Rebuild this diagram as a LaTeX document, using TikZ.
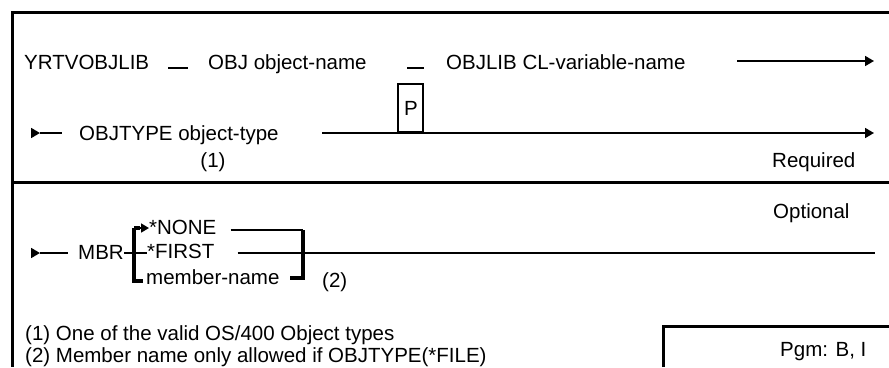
\documentclass[tikz,border=0pt]{standalone}
\usepackage{fontspec}
\setmainfont{Liberation Sans}
\usetikzlibrary{arrows.meta}
\begin{document}
\begin{tikzpicture}[x=1pt,y=-1pt,
  txt/.style={inner sep=0pt,anchor=base west,font=\fontsize{20.5}{24}\selectfont},
  ln/.style={line width=1.7pt},
  arr/.style={ln,-{Triangle[length=9pt,width=10pt]}},
  brk/.style={line width=3.5pt},
  frm/.style={line width=3pt}]
\useasboundingbox (0,0) rectangle (889,367);
\fill[white] (0,0) rectangle (889,367);
% frame
\draw[frm] (889,12) -- (12,12) -- (12,367);
\draw[frm] (12,182) -- (889,182);
\draw[frm] (663,367) -- (663,326) -- (889,326);

% row 1
\node[txt] (cmd) at (24,69) {YRTVOBJLIB};
\coordinate (d1a) at (168,68);
\coordinate (d1b) at (188,68);
\draw[ln] (d1a) -- (d1b);
\node[txt] (obj) at (208,69) {OBJ object-name};
\coordinate (d2a) at (407,68);
\coordinate (d2b) at (424,68);
\draw[ln] (d2a) -- (d2b);
\node[txt] (objlib) at (446,69) {OBJLIB CL-variable-name};
\coordinate (r1s) at (737,61);
\coordinate (r1e) at (874,61);
\draw[arr] (r1s) -- (r1e);

% row 2
\coordinate (t2a) at (31,133);
\coordinate (t2b) at (40,133);
\coordinate (t2c) at (62,133);
\draw[arr] (t2a) -- (t2b);
\draw[ln] (t2b) -- (t2c);
\node[txt] (otype) at (79,140) {OBJTYPE object-type};
\node[txt,anchor=base] (n1) at (213,167) {(1)};
\coordinate (r2s) at (322,133);
\coordinate (r2e) at (874,133);
\draw[arr] (r2s) -- (r2e);
\node[draw,line width=1.7pt,inner sep=0pt,minimum width=25pt,minimum height=48pt,anchor=south] (pbox) at (410.5,133) {};
\node[txt,anchor=base] (p) at (411,115) {P};
\node[txt] (req) at (772,167) {Required};

% row 3
\node[txt] (opt) at (773,218) {Optional};
\coordinate (t3a) at (31,253);
\coordinate (t3b) at (40,253);
\coordinate (t3c) at (68,253);
\draw[arr] (t3a) -- (t3b);
\draw[ln] (t3b) -- (t3c);
\node[txt] (mbr) at (78,259) {MBR};
\node[txt] (none) at (149,234) {*NONE};
\node[txt] (first) at (147,258) {*FIRST};
\node[txt] (mem) at (146,284) {member-name};
\node[txt] (n2) at (322,287) {(2)};
% left bracket
\coordinate (lbt) at (134,228);
\coordinate (lbb) at (134,281);
\draw[brk] (lbt) -- (lbb) -- ++(9,0);
\draw[brk] (lbt) -- ++(6,0);
\draw[ln,-{Triangle[length=8pt,width=9pt]}] (138,228) -- (none.west |- 0,228);
\draw[ln] (mbr.east |- 0,253) -- (first.west |- 0,253);
% right bracket
\coordinate (rbt) at (303,230);
\coordinate (rbb) at (303,278);
\draw[ln] (none.east |- 0,230) ++(14,0) -- (rbt);
\draw[brk] (rbt) -- (rbb) -- ++(-13,0);
\draw[ln] (first.east |- 0,253) ++(23,0) -- (875,253);

% footnotes
\node[txt] (f1) at (25,340) {(1) One of the valid OS/400 Object types};
\node[txt] (f2) at (25,362) {(2) Member name only allowed if OBJTYPE(*FILE)};
\node[txt] (pgm) at (780,356) {Pgm: B, I};
\end{tikzpicture}
\end{document}
